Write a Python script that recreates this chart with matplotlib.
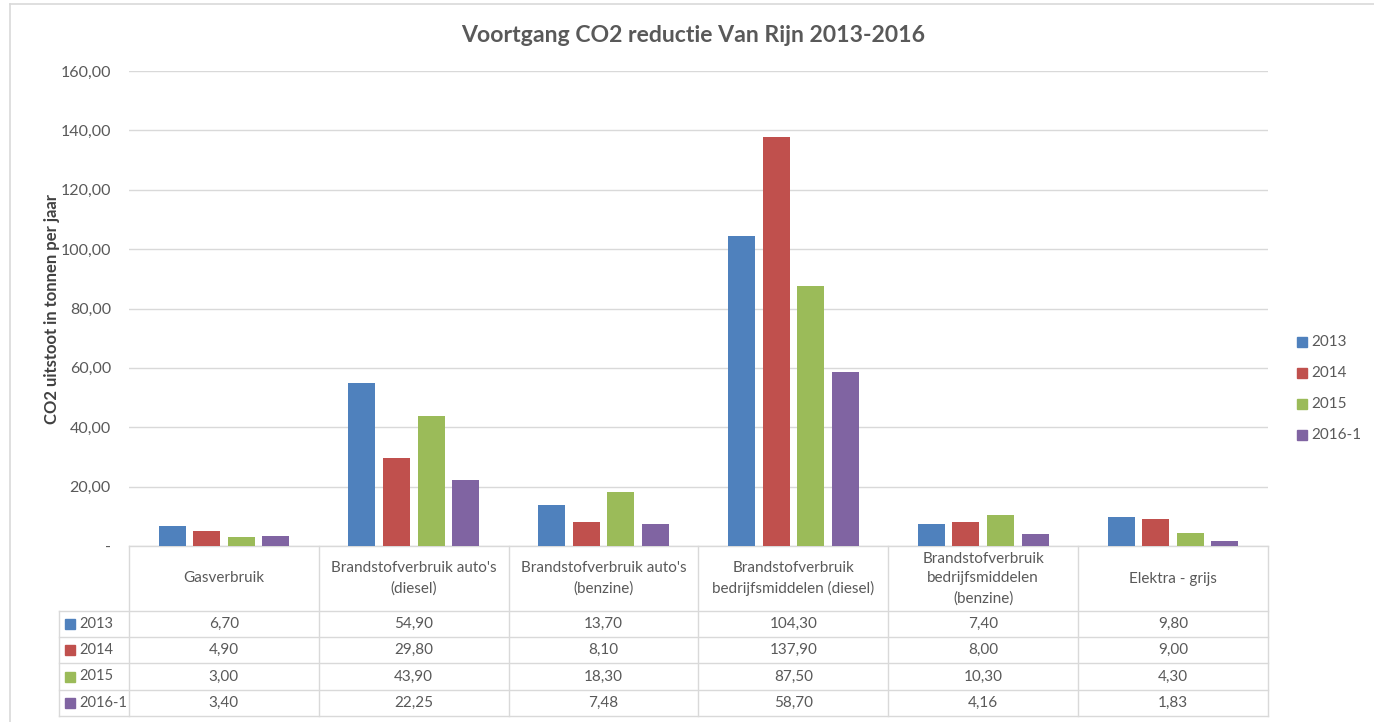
import matplotlib.pyplot as plt
from matplotlib import transforms
from matplotlib.patches import Rectangle
from matplotlib.lines import Line2D

# chart data
categories = [
    "Gasverbruik",
    "Brandstofverbruik auto's\n(diesel)",
    "Brandstofverbruik auto's\n(benzine)",
    "Brandstofverbruik\nbedrijfsmiddelen (diesel)",
    "Brandstofverbruik\nbedrijfsmiddelen\n(benzine)",
    "Elektra - grijs",
]
series_names = ["2013", "2014", "2015", "2016-1"]
values_2013 = [6.70, 54.90, 13.70, 104.30, 7.40, 9.80]
values_2014 = [4.90, 29.80, 8.10, 137.90, 8.00, 9.00]
values_2015 = [3.00, 43.90, 18.30, 87.50, 10.30, 4.30]
values_2016 = [3.40, 22.25, 7.48, 58.70, 4.16, 1.83]
y_ticks = [0, 20, 40, 60, 80, 100, 120, 140, 160]

series_values = [values_2013, values_2014, values_2015, values_2016]
colors = ["#4F81BD", "#C0504D", "#9BBB59", "#8064A2"]
text_color = "#595959"
line_color = "#D9D9D9"

plt.rcParams["font.family"] = ["Lato", "DejaVu Sans"]

W, H = 1374, 722
fig = plt.figure(figsize=(W / 100, H / 100), dpi=100)


def fx(px):
    return px / W


def fy(py):
    return 1 - py / H


# plot area in pixels
left, right, top, bottom = 129, 1268, 71, 546
ax = fig.add_axes([fx(left), fy(bottom), fx(right - left), (bottom - top) / H])

n = len(categories)
step = 0.182
width = 0.142
for i, (name, vals) in enumerate(zip(series_names, series_values)):
    xs = [c + (i - 1.5) * step for c in range(n)]
    ax.bar(xs, vals, width=width, color=colors[i], label=name, zorder=3)

ax.set_xlim(-0.5, n - 0.5)
ax.set_ylim(0, 160)
ax.set_yticks(y_ticks)


def fmt(v):
    return "-" if v == 0 else f"{v:.2f}".replace(".", ",")


ax.set_yticklabels([fmt(v) for v in y_ticks], color=text_color, fontsize=11.5)
ax.tick_params(axis="y", length=0, pad=13)
ax.set_xticks([])
ax.grid(axis="y", color=line_color, linewidth=1, zorder=0)
for s in ax.spines.values():
    s.set_visible(False)

ax.set_ylabel("CO2 uitstoot in tonnen per jaar", fontsize=12, fontweight="bold",
              color="#404040", labelpad=0)

fig.text(fx(693), fy(36), "Voortgang CO2 reductie Van Rijn 2013-2016",
         ha="center", va="center", fontsize=16.6, fontweight="bold", color=text_color)

# outer chart border (top and left visible)
fig.add_artist(Line2D([fx(10), 1], [fy(4), fy(4)], color=line_color, linewidth=1.2))
fig.add_artist(Line2D([fx(10), fx(10)], [fy(4), 0], color=line_color, linewidth=1.2))

# data table below the plot
bt = transforms.blended_transform_factory(ax.transData, fig.transFigure)
header_bottom = 611
row_edges = [611, 637, 663, 690, 716]
table_left_px = 59

# horizontal lines
ax.add_line(Line2D([-0.5, n - 0.5], [fy(bottom)] * 2, transform=bt, color=line_color,
                   linewidth=1, clip_on=False))
for ry in row_edges:
    fig.add_artist(Line2D([fx(table_left_px), fx(right)], [fy(ry)] * 2, color=line_color, linewidth=1))
# vertical lines
for b in range(n + 1):
    ax.add_line(Line2D([b - 0.5, b - 0.5], [fy(bottom), fy(row_edges[-1])], transform=bt,
                       color=line_color, linewidth=1, clip_on=False))
fig.add_artist(Line2D([fx(table_left_px)] * 2, [fy(row_edges[0]), fy(row_edges[-1])],
                      color=line_color, linewidth=1))

# header labels
for c, cat in enumerate(categories):
    ax.text(c, fy((bottom + header_bottom) / 2), cat, transform=bt, ha="center", va="center",
            fontsize=11, color=text_color, linespacing=1.5, clip_on=False)

# rows
for r, (name, vals) in enumerate(zip(series_names, series_values)):
    cy = (row_edges[r] + row_edges[r + 1]) / 2
    fig.patches.append(Rectangle((fx(65), fy(cy + 5)), fx(10), 10 / H, color=colors[r],
                                 transform=fig.transFigure))
    fig.text(fx(79), fy(cy), name, ha="left", va="center", fontsize=10.5, color=text_color)
    for c, v in enumerate(vals):
        ax.text(c, fy(cy), f"{v:.2f}".replace(".", ","), transform=bt, ha="center",
                va="center", fontsize=11, color=text_color, clip_on=False)

# legend on the right
for r, name in enumerate(series_names):
    cy = 342 + 31 * r
    fig.patches.append(Rectangle((fx(1297), fy(cy + 5)), fx(10), 10 / H, color=colors[r],
                                 transform=fig.transFigure))
    fig.text(fx(1311), fy(cy), name, ha="left", va="center", fontsize=11, color=text_color)

fig.savefig("out.png", dpi=100)
